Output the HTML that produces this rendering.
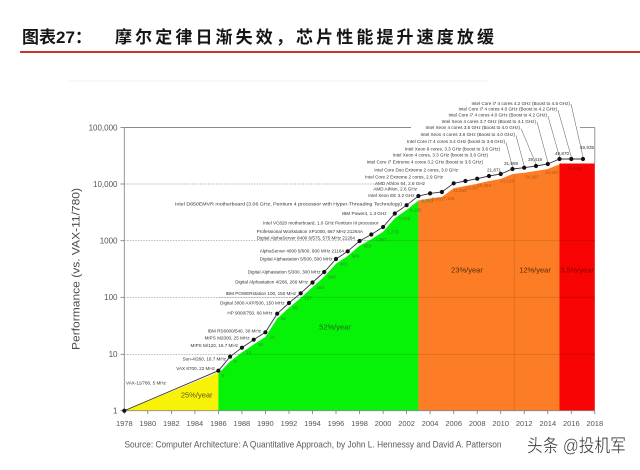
<!DOCTYPE html>
<html><head><meta charset="utf-8"><style>
html,body{margin:0;padding:0;background:#fff;}
svg{display:block;}
text{font-family:"Liberation Sans","Noto Sans CJK SC",sans-serif;}
</style></head><body>
<svg width="640" height="470" viewBox="0 0 640 470" xmlns="http://www.w3.org/2000/svg">
<rect width="640" height="470" fill="#fff"/>
<!-- Title -->
<text x="22" y="43" font-size="17" font-weight="bold" fill="#151515">图表27：</text>
<text x="115" y="43" font-size="17" font-weight="bold" fill="#151515" textLength="379" lengthAdjust="spacing">摩尔定律日渐失效，芯片性能提升速度放缓</text>
<line x1="20" y1="52" x2="640" y2="52" stroke="#c8352b" stroke-width="2"/>
<line x1="69" y1="81" x2="488" y2="81" stroke="#f0f0f0" stroke-width="1"/>

<!-- grid under fills -->
<g stroke="#9a9a9a" stroke-width="0.7" stroke-dasharray="1.5,1.2">
<line x1="124.3" y1="184" x2="378" y2="184"/>
<line x1="124.3" y1="240.7" x2="594.8" y2="240.7"/>
<line x1="124.3" y1="297.3" x2="594.8" y2="297.3"/>
<line x1="124.3" y1="354.3" x2="594.8" y2="354.3"/>
</g>

<!-- fills -->
<polygon points="124.3,410.7 218.4,372.5 218.4,410.7" fill="#f8f206"/>
<polygon points="218.4,410.7 218.4,373.7 230.1,361.5 241.9,352.5 253.7,344.5 265.4,337 277.2,318.5 289,307.8 300.7,298 312.5,287.3 324.2,276.8 336,263.8 347.7,256 359.6,245.8 371.3,239.3 383.1,231.8 394.8,218.3 406.6,210 418.4,200.5 418.4,410.7" fill="#06f206"/>
<polygon points="418.4,410.7 418.4,200.5 430.1,198.4 441.9,197 453.7,188.3 465.4,186 477.2,183.7 489,181 500.7,179 512.5,174 524.2,172.7 536,171 547.8,169 559.5,164.3 559.5,410.7" fill="#fc7d25"/>
<rect x="559.5" y="163.5" width="35.3" height="247.2" fill="#f80404"/>

<!-- faint grid over fills -->
<g stroke="rgba(0,0,0,0.13)" stroke-width="0.8">
<line x1="218.4" y1="297.3" x2="594.8" y2="297.3"/>
<line x1="218.4" y1="354.3" x2="594.8" y2="354.3"/>
<line x1="360" y1="240.7" x2="594.8" y2="240.7"/>
<line x1="514.3" y1="175" x2="514.3" y2="410.7"/>
</g>

<!-- frame & axes -->
<g stroke="#8a8a8a" stroke-width="0.9" fill="none">
<line x1="124.3" y1="127.5" x2="411" y2="127.5"/>
<line x1="580" y1="127.5" x2="594.8" y2="127.5"/>
<line x1="594.8" y1="127.5" x2="594.8" y2="163.5"/>
<line x1="124.3" y1="127.5" x2="124.3" y2="410.7"/>
<line x1="124.3" y1="410.7" x2="594.8" y2="410.7"/>
</g>
<g stroke="#777" stroke-width="0.8">
<line x1="120.5" y1="127.5" x2="124.3" y2="127.5"/>
<line x1="120.5" y1="184" x2="124.3" y2="184"/>
<line x1="120.5" y1="240.7" x2="124.3" y2="240.7"/>
<line x1="120.5" y1="297.3" x2="124.3" y2="297.3"/>
<line x1="120.5" y1="354.3" x2="124.3" y2="354.3"/>
<line x1="120.5" y1="410.7" x2="124.3" y2="410.7"/>
<line x1="124.3" y1="410.7" x2="124.3" y2="414"/>
<line x1="147.8" y1="410.7" x2="147.8" y2="414"/>
<line x1="171.4" y1="410.7" x2="171.4" y2="414"/>
<line x1="194.9" y1="410.7" x2="194.9" y2="414"/>
<line x1="218.4" y1="410.7" x2="218.4" y2="414"/>
<line x1="241.9" y1="410.7" x2="241.9" y2="414"/>
<line x1="265.4" y1="410.7" x2="265.4" y2="414"/>
<line x1="289" y1="410.7" x2="289" y2="414"/>
<line x1="312.5" y1="410.7" x2="312.5" y2="414"/>
<line x1="336" y1="410.7" x2="336" y2="414"/>
<line x1="359.6" y1="410.7" x2="359.6" y2="414"/>
<line x1="383.1" y1="410.7" x2="383.1" y2="414"/>
<line x1="406.6" y1="410.7" x2="406.6" y2="414"/>
<line x1="430.1" y1="410.7" x2="430.1" y2="414"/>
<line x1="453.7" y1="410.7" x2="453.7" y2="414"/>
<line x1="477.2" y1="410.7" x2="477.2" y2="414"/>
<line x1="500.7" y1="410.7" x2="500.7" y2="414"/>
<line x1="524.2" y1="410.7" x2="524.2" y2="414"/>
<line x1="547.8" y1="410.7" x2="547.8" y2="414"/>
<line x1="571.3" y1="410.7" x2="571.3" y2="414"/>
<line x1="594.8" y1="410.7" x2="594.8" y2="414"/>
</g>

<!-- Y labels -->
<g font-size="8" fill="#555" text-anchor="end">
<text x="117.5" y="130.3">100,000</text>
<text x="117.5" y="186.8">10,000</text>
<text x="117.5" y="243.5">1000</text>
<text x="117.5" y="300.1">100</text>
<text x="117.5" y="357.1">10</text>
<text x="117.5" y="413.5">1</text>
</g>
<text transform="translate(79.5,269) rotate(-90)" font-size="11" fill="#4a4a4a" text-anchor="middle" textLength="162" lengthAdjust="spacingAndGlyphs">Performance (vs. VAX-11/780)</text>

<!-- X labels -->
<g font-size="7.5" fill="#555" text-anchor="middle">
<text x="124.3" y="425.8">1978</text>
<text x="147.8" y="425.8">1980</text>
<text x="171.4" y="425.8">1982</text>
<text x="194.9" y="425.8">1984</text>
<text x="218.4" y="425.8">1986</text>
<text x="241.9" y="425.8">1988</text>
<text x="265.4" y="425.8">1990</text>
<text x="289" y="425.8">1992</text>
<text x="312.5" y="425.8">1994</text>
<text x="336" y="425.8">1996</text>
<text x="359.6" y="425.8">1998</text>
<text x="383.1" y="425.8">2000</text>
<text x="406.6" y="425.8">2002</text>
<text x="430.1" y="425.8">2004</text>
<text x="453.7" y="425.8">2006</text>
<text x="477.2" y="425.8">2008</text>
<text x="500.7" y="425.8">2010</text>
<text x="524.2" y="425.8">2012</text>
<text x="547.8" y="425.8">2014</text>
<text x="571.3" y="425.8">2016</text>
<text x="594.8" y="425.8">2018</text>
</g>

<!-- rate labels -->
<g font-size="7.5" text-anchor="middle">
<text x="196.7" y="397.6" fill="#5a5a20">25%/year</text>
<text x="335" y="329.6" fill="#1f6a1f">52%/year</text>
<text x="467" y="272.6" fill="#5a2a0a">23%/year</text>
<text x="535" y="272.6" fill="#5a2a0a">12%/year</text>
<text x="577" y="272.6" fill="#8a0000">3.5%/year</text>
</g>

<!-- leader lines -->
<g stroke="#555" stroke-width="0.5">
<line x1="571" y1="104" x2="583" y2="157"/>
<line x1="558" y1="110" x2="571.3" y2="157"/>
<line x1="548" y1="116" x2="559.5" y2="157"/>
<line x1="537" y1="122" x2="547.8" y2="162"/>
<line x1="521" y1="128.5" x2="536" y2="164"/>
<line x1="516" y1="135.5" x2="524.2" y2="166"/>
<line x1="506" y1="142.5" x2="512.5" y2="167"/>
</g>

<!-- data line -->
<polyline fill="none" stroke="#3a3040" stroke-width="0.9" points="124.3,410.7 218.4,370.7 230.1,356.7 241.9,347.7 253.7,339.7 265.4,332.3 277.2,313.7 289,303 300.7,293.3 312.5,282.5 324.2,272 336,259 347.7,251.3 359.6,241 371.3,234.5 383.1,227 394.8,213.5 406.6,205.2 418.4,196 430.1,193.4 441.9,192 453.7,183.3 465.4,181 477.2,178.7 489,176 500.7,174 512.5,169 524.2,167.7 536,166 547.8,164 559.5,159 571.3,159 583,159"/>
<g fill="#111">
<circle cx="124.3" cy="410.7" r="2.1"/><circle cx="218.4" cy="370.7" r="2.1"/><circle cx="230.1" cy="356.7" r="2.1"/><circle cx="241.9" cy="347.7" r="2.1"/><circle cx="253.7" cy="339.7" r="2.1"/><circle cx="265.4" cy="332.3" r="2.1"/><circle cx="277.2" cy="313.7" r="2.1"/><circle cx="289" cy="303" r="2.1"/><circle cx="300.7" cy="293.3" r="2.1"/><circle cx="312.5" cy="282.5" r="2.1"/><circle cx="324.2" cy="272" r="2.1"/><circle cx="336" cy="259" r="2.1"/><circle cx="347.7" cy="251.3" r="2.1"/><circle cx="359.6" cy="241" r="2.1"/><circle cx="371.3" cy="234.5" r="2.1"/><circle cx="383.1" cy="227" r="2.1"/><circle cx="394.8" cy="213.5" r="2.1"/><circle cx="406.6" cy="205.2" r="2.1"/><circle cx="418.4" cy="196" r="2.1"/><circle cx="430.1" cy="193.4" r="2.1"/><circle cx="441.9" cy="192" r="2.1"/><circle cx="453.7" cy="183.3" r="2.1"/><circle cx="465.4" cy="181" r="2.1"/><circle cx="477.2" cy="178.7" r="2.1"/><circle cx="489" cy="176" r="2.1"/><circle cx="500.7" cy="174" r="2.1"/><circle cx="512.5" cy="169" r="2.1"/><circle cx="524.2" cy="167.7" r="2.1"/><circle cx="536" cy="166" r="2.1"/><circle cx="547.8" cy="164" r="2.1"/><circle cx="559.5" cy="159" r="2.1"/><circle cx="571.3" cy="159" r="2.1"/><circle cx="583" cy="159" r="2.1"/>
</g>

<!-- processor labels -->
<text x="126" y="384.5" font-size="4.6" fill="#333">VAX-11/780, 5 MHz</text>
<g font-size="4.6" fill="#333" text-anchor="end">
<text x="215" y="370">VAX 8700, 22 MHz</text>
<text x="226" y="360.4">Sun-4/260, 16.7 MHz</text>
<text x="238" y="347">MIPS M/120, 16.7 MHz</text>
<text x="249.5" y="339.4">MIPS M2000, 25 MHz</text>
<text x="261" y="332.4">IBM RS6000/540, 30 MHz</text>
<text x="272.5" y="314.4">HP 9000/750, 66 MHz</text>
<text x="284.5" y="304.7">Digital 3000 AXP/500, 150 MHz</text>
<text x="296" y="295">IBM POWERstation 100, 150 MHz</text>
<text x="308" y="283.7">Digital Alphastation 4/266, 266 MHz</text>
<text x="320.5" y="273.7">Digital Alphastation 5/300, 300 MHz</text>
<text x="332.5" y="260.7">Digital Alphastation 5/500, 500 MHz</text>
<text x="344" y="252.7">AlphaServer 4000 5/600, 600 MHz 21164</text>
<text x="355" y="239.7">Digital AlphaServer 8400 6/575, 575 MHz 21264</text>
<text x="363" y="233.2">Professional Workstation XP1000, 667 MHz 21264A</text>
<text x="378.5" y="224.4">Intel VC820 motherboard, 1.0 GHz Pentium III processor</text>
<text x="386.5" y="215">IBM Power4, 1.3 GHz</text>
<text x="402" y="205.7" textLength="227" lengthAdjust="spacingAndGlyphs">Intel D850EMVR motherboard (3.06 GHz, Pentium 4 processor with Hyper-Threading Technology)</text>
<text x="414.5" y="197.2">Intel Xeon EE 3.2 GHz</text>
<text x="417" y="190.7">AMD Athlon, 2.6 GHz</text>
<text x="425" y="185.2">AMD Athlon 64, 2.8 GHz</text>
<text x="443" y="178.4">Intel Core 2 Extreme 2 cores, 2.9 GHz</text>
<text x="458" y="171.7">Intel Core Duo Extreme 2 cores, 3.0 GHz</text>
<text x="483" y="163.4">Intel Core i7 Extreme 4 cores 3.2 GHz (boost to 3.5 GHz)</text>
<text x="488" y="156.7">Intel Xeon 4 cores, 3.3 GHz (boost to 3.6 GHz)</text>
<text x="500" y="150.7">Intel Xeon 6 cores, 3.3 GHz (boost to 3.6 GHz)</text>
<text x="505" y="143.2">Intel Core i7 4 cores 3.4 GHz (boost to 3.8 GHz)</text>
<text x="515" y="136.2">Intel Xeon 4 cores 3.6 GHz (Boost to 4.0 GHz)</text>
<text x="520" y="129.2">Intel Xeon 4 cores 3.6 GHz (Boost to 4.0 GHz)</text>
<text x="536" y="123">Intel Xeon 4 cores 3.7 GHz (Boost to 4.1 GHz)</text>
<text x="547" y="116.4">Intel Core i7 4 cores 4.0 GHz (Boost to 4.2 GHz)</text>
<text x="557" y="110.7">Intel Core i7 4 cores 4.0 GHz (Boost to 4.2 GHz)</text>
<text x="570" y="105">Intel Core i7 4 cores 4.2 GHz (Boost to 4.5 GHz)</text>
</g>

<!-- value labels -->
<g font-size="4.6" fill="#2f8a2f">
<text x="222" y="377">5</text><text x="234" y="363">9</text><text x="246" y="354">13</text><text x="258" y="346">18</text><text x="269.5" y="338.5">24</text><text x="281" y="320">51</text><text x="293" y="309.5">80</text><text x="304.5" y="299.5">117</text><text x="316.5" y="289">183</text><text x="328" y="278.5">280</text><text x="340" y="265.5">481</text><text x="351.5" y="257.5">649</text><text x="363.5" y="247.5">993</text><text x="375" y="241">1,267</text><text x="387" y="233.5">1,779</text><text x="398.5" y="220">3,016</text><text x="410" y="211.5">4,195</text><text x="421.5" y="202.5">6,043</text>
</g>
<g font-size="4.6" fill="#b8561a">
<text x="432" y="200.5">6,681</text><text x="443" y="200">7,108</text><text x="453" y="192">11,865</text><text x="465" y="189.5">14,387</text><text x="477" y="187">19,484</text><text x="500" y="182.5">24,129</text><text x="525" y="178.5">34,967</text><text x="545" y="174">40,967</text>
</g>
<g font-size="4.6" fill="#333">
<text x="487" y="171.5">21,871</text><text x="504" y="165">31,999</text><text x="528" y="161">39,419</text><text x="555" y="155">49,870</text><text x="580" y="149">49,935</text>
</g>
<text x="567" y="170" font-size="4.6" fill="#a01010">49,935</text>

<!-- source -->
<text x="124.5" y="447.3" font-size="9.5" fill="#5a5a5a" textLength="377" lengthAdjust="spacingAndGlyphs">Source: Computer Architecture: A Quantitative Approach, by John L. Hennessy and David A. Patterson</text>

<!-- watermark -->
<text x="527" y="452" font-size="18" fill="#3a3a3a" stroke="#fff" stroke-width="0.3" textLength="99" lengthAdjust="spacingAndGlyphs">头条 @投机军</text>
</svg>
</body></html>
